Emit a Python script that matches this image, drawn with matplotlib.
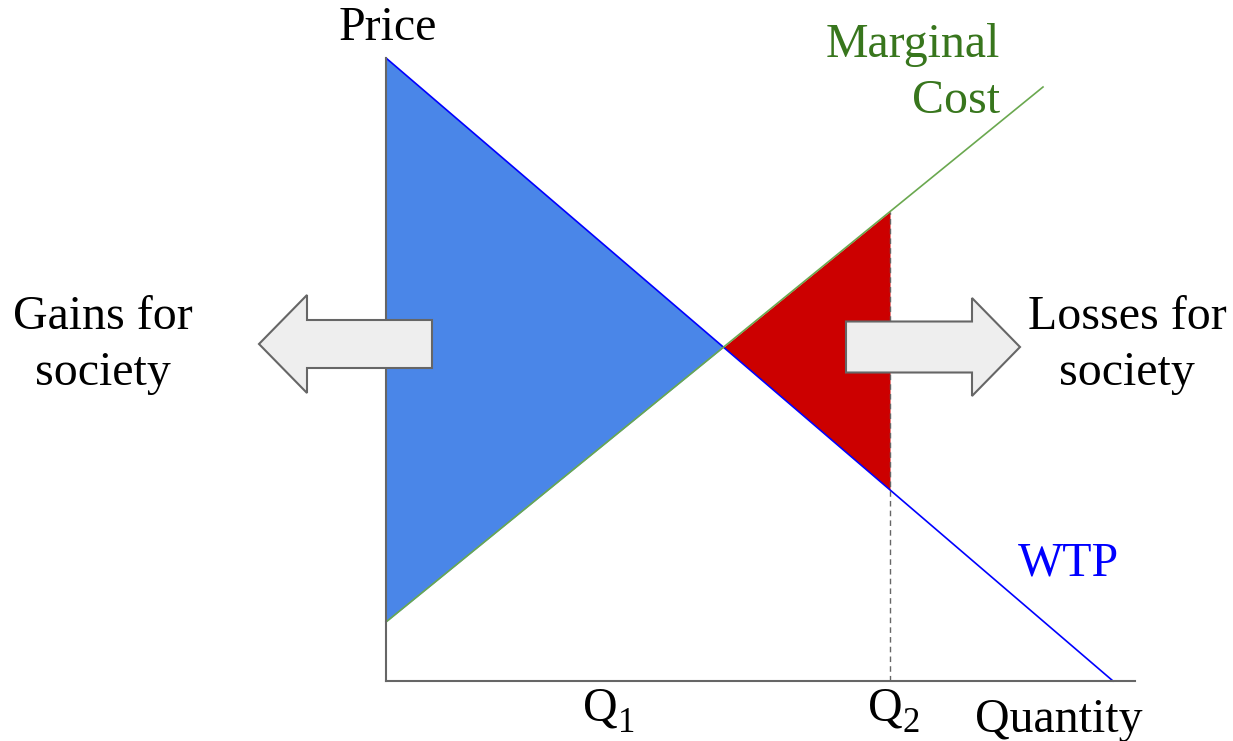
import numpy as np
import matplotlib
matplotlib.use("Agg")
import matplotlib.pyplot as plt
from matplotlib.patches import FancyArrow

plt.rcParams['font.family'] = ['Liberation Serif', 'DejaVu Serif']

# demand (willingness to pay) and marginal cost lines, endpoints
wtp_q = [0, 72.7]
wtp_p = [62.3, 0]
mc_q = [0, 65.7]
mc_p = [5.9, 59.4]
q2 = 50.4
x_axis_end = 74.9
y_axis_top = 62.3

wtp = lambda q: np.interp(q, wtp_q, wtp_p)
mc = lambda q: np.interp(q, mc_q, mc_p)

# equilibrium where the two lines cross
s_w = (wtp_p[1] - wtp_p[0]) / (wtp_q[1] - wtp_q[0])
s_m = (mc_p[1] - mc_p[0]) / (mc_q[1] - mc_q[0])
q_star = (mc_p[0] - wtp_p[0]) / (s_w - s_m)

fig = plt.figure(figsize=(12.33, 7.41), dpi=100)
ax = fig.add_axes([0, 0, 1, 1])
ax.set_xlim(-38.6, 84.7)
ax.set_ylim(-6.0, 68.1)
ax.axis('off')

qa = np.linspace(0, q_star, 50)
ax.fill_between(qa, mc(qa), wtp(qa), color='#4a86e8', lw=0, zorder=1)
qb = np.linspace(q_star, q2, 50)
ax.fill_between(qb, wtp(qb), mc(qb), color='#cc0000', lw=0, zorder=1)

ax.plot([q2, q2], [0, mc(q2)], color='#666666', lw=1, ls=(0, (4, 3)), zorder=2)
ax.plot(wtp_q, wtp_p, color='#0000ff', lw=1.2, zorder=3)
ax.plot(mc_q, mc_p, color='#6aa84f', lw=1.2, zorder=3)

ax.plot([0, 0], [0, y_axis_top], color='#666666', lw=1.5, zorder=4)
ax.plot([0, x_axis_end], [0, 0], color='#666666', lw=1.5, zorder=4)

ax.add_patch(FancyArrow(4.6, 33.7, -17.3, 0, width=4.8, head_width=9.8,
                        head_length=4.8, length_includes_head=True,
                        fc='#eeeeee', ec='#666666', lw=1.5, zorder=5))
ax.add_patch(FancyArrow(46.0, 33.4, 17.4, 0, width=5.1, head_width=9.8,
                        head_length=4.8, length_includes_head=True,
                        fc='#eeeeee', ec='#666666', lw=1.5, zorder=5))

fs = 34.5
ls = 1.38
ax.text(0.2, 64.1, 'Price', fontsize=fs, ha='center', va='baseline')
ax.text(61.4, 60.8, 'Marginal\nCost', fontsize=fs, color='#38761d',
        ha='right', va='center', multialignment='right', linespacing=ls)
ax.text(68.2, 11.8, 'WTP', fontsize=fs, color='#0000ff', ha='center', va='center')
ax.text(-28.3, 33.6, 'Gains for\nsociety', fontsize=fs, ha='center', va='center',
        linespacing=ls)
ax.text(74.1, 33.6, 'Losses for\nsociety', fontsize=fs, ha='center', va='center',
        linespacing=ls)

# axis labels with subscripts
ax.text(19.7, -3.9, 'Q', fontsize=fs, ha='left', va='baseline')
ax.text(23.2, -5.1, '1', fontsize=25, ha='left', va='baseline')
ax.text(48.2, -3.9, 'Q', fontsize=fs, ha='left', va='baseline')
ax.text(51.6, -5.1, '2', fontsize=25, ha='left', va='baseline')
ax.text(67.3, -5.1, 'Quantity', fontsize=fs, ha='center', va='baseline')

fig.savefig('out.png', dpi=100)
